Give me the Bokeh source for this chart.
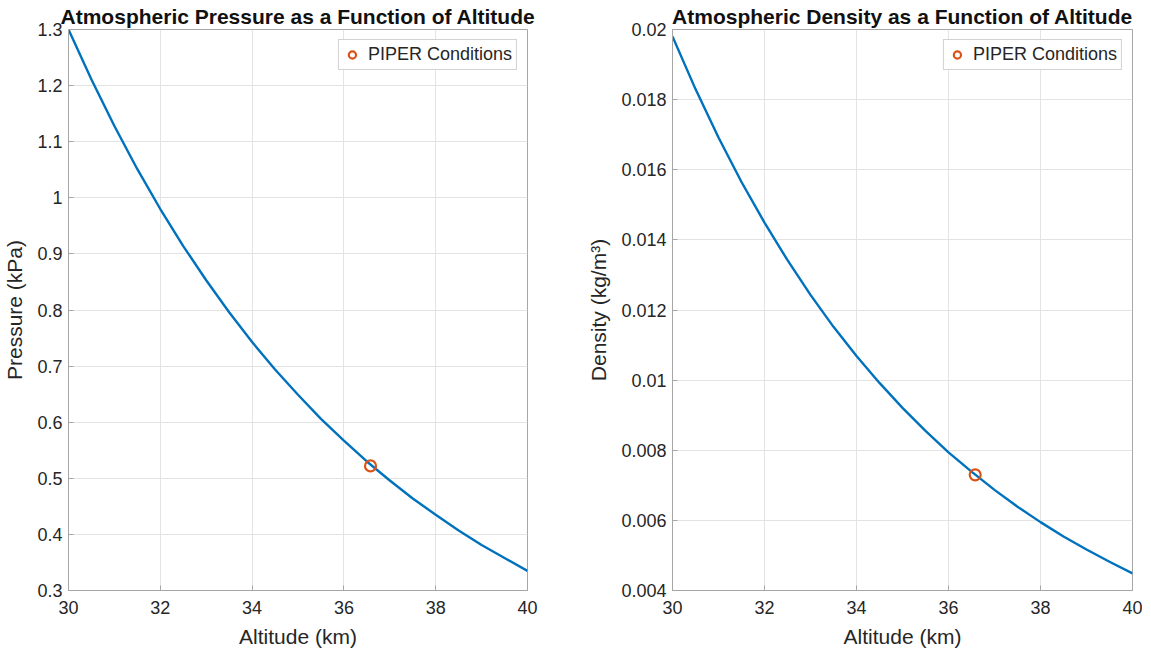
from bokeh.plotting import figure
from bokeh.layouts import row
from bokeh.models import FixedTicker, Range1d, Legend, LegendItem
from bokeh.embed import file_html
from bokeh.resources import INLINE

# ---- data ----
altitude_km = [30.0, 30.5, 31.0, 31.5, 32.0, 32.5, 33.0, 33.5, 34.0, 34.5, 35.0,
               35.5, 36.0, 36.5, 37.0, 37.5, 38.0, 38.5, 39.0, 39.5, 40.0]
pressure_kpa = [1.300, 1.211, 1.128, 1.051, 0.980, 0.914, 0.853, 0.796, 0.743, 0.694, 0.649,
                0.606, 0.567, 0.530, 0.496, 0.464, 0.435, 0.407, 0.381, 0.358, 0.335]
density_kgm3 = [0.01980, 0.01830, 0.01692, 0.01565, 0.01449, 0.01342, 0.01243, 0.01152,
                0.01069, 0.00992, 0.00921, 0.00855, 0.00794, 0.00739, 0.00687, 0.00639,
                0.00595, 0.00554, 0.00517, 0.00482, 0.00449]

piper_altitude = [36.58]
piper_pressure = [0.522]
piper_density = [0.0073]

x_ticks = [30, 32, 34, 36, 38, 40]
x_tick_labels = ["30", "32", "34", "36", "38", "40"]
pressure_ticks = [0.3, 0.4, 0.5, 0.6, 0.7, 0.8, 0.9, 1.0, 1.1, 1.2, 1.3]
pressure_tick_labels = ["0.3", "0.4", "0.5", "0.6", "0.7", "0.8", "0.9", "1", "1.1", "1.2", "1.3"]
density_ticks = [0.004, 0.006, 0.008, 0.010, 0.012, 0.014, 0.016, 0.018, 0.020]
density_tick_labels = ["0.004", "0.006", "0.008", "0.01", "0.012", "0.014", "0.016", "0.018", "0.02"]

FONT = "Liberation Sans"
TEXT = "#262626"
AXIS = "#a6a6a6"
GRID = "#e3e3e3"
BLUE = "#0072BD"
ORANGE = "#D95319"


def style_axis(ax, ticks, labels):
    ax.ticker = FixedTicker(ticks=ticks)
    ax.major_label_overrides = {t: l for t, l in zip(ticks, labels)}
    ax.minor_tick_line_color = None
    ax.major_tick_in = 5
    ax.major_tick_out = 0
    ax.major_tick_line_color = AXIS
    ax.axis_line_color = AXIS
    ax.major_label_text_font = FONT
    ax.major_label_text_font_size = "18px"
    ax.major_label_text_color = TEXT
    ax.axis_label_text_font = FONT
    ax.axis_label_text_font_size = "21px"
    ax.axis_label_text_font_style = "normal"
    ax.axis_label_text_color = TEXT


def make_panel(title, ylabel, y, yr, yticks, ylabels, py, width, bl, br):
    p = figure(width=width, height=650, x_range=Range1d(30, 40), y_range=Range1d(*yr),
               output_backend="svg", toolbar_location=None,
               min_border_left=bl, min_border_right=br, min_border_top=29, min_border_bottom=60)
    p.background_fill_color = "white"
    p.border_fill_color = "white"
    p.outline_line_color = AXIS
    p.outline_line_width = 1

    p.title.text = title
    p.title.align = "center"
    p.title.text_font = FONT
    p.title.text_font_size = "21px"
    p.title.text_font_style = "bold"
    p.title.text_color = "#111111"
    p.title.standoff = 4

    style_axis(p.xaxis[0], x_ticks, x_tick_labels)
    style_axis(p.yaxis[0], yticks, ylabels)
    p.xaxis[0].major_label_standoff = 10
    p.yaxis[0].major_label_standoff = 6
    p.xaxis[0].axis_label = "Altitude (km)"
    p.yaxis[0].axis_label = ylabel
    p.xaxis[0].axis_label_standoff = 8
    p.yaxis[0].axis_label_standoff = 8

    p.xgrid.ticker = FixedTicker(ticks=x_ticks)
    p.ygrid.ticker = FixedTicker(ticks=yticks)
    p.xgrid.grid_line_color = GRID
    p.ygrid.grid_line_color = GRID

    p.line(altitude_km, y, line_color=BLUE, line_width=2.4)
    r = p.scatter(piper_altitude, py, marker="circle", size=11, fill_color=None,
                  line_color=ORANGE, line_width=2.2)

    legend = Legend(items=[LegendItem(label="PIPER Conditions", renderers=[r])],
                    location="top_right")
    legend.label_text_font = FONT
    legend.label_text_font_size = "18px"
    legend.label_text_color = TEXT
    legend.border_line_color = AXIS
    legend.margin = 10
    legend.padding = 4
    legend.label_standoff = 7
    legend.glyph_width = 18
    legend.glyph_height = 19
    legend.label_height = 19
    p.add_layout(legend)
    return p


p1 = make_panel("Atmospheric Pressure as a Function of Altitude", "Pressure (kPa)",
                pressure_kpa, (0.3, 1.3), pressure_ticks, pressure_tick_labels,
                piper_pressure, 572, 68, 45)
p2 = make_panel("Atmospheric Density as a Function of Altitude", "Density (kg/m³)",
                density_kgm3, (0.004, 0.020), density_ticks, density_tick_labels,
                piper_density, 570, 100, 10)

layout = row(p1, p2)
open("out.html", "w").write(file_html(layout, INLINE))
